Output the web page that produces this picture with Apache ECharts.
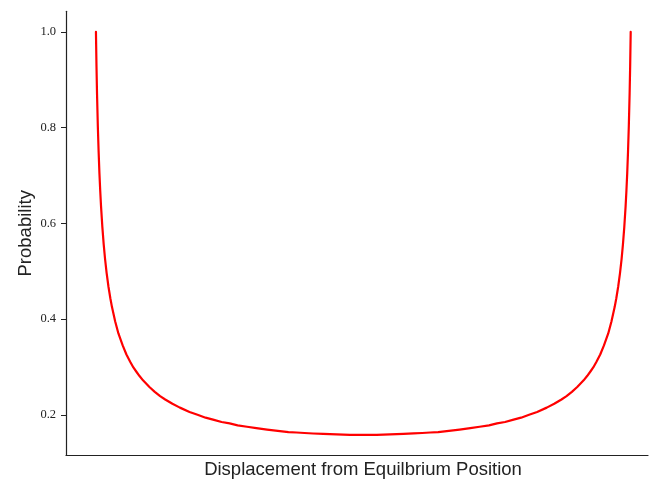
<!DOCTYPE html>
<html>
<head>
<meta charset="utf-8">
<script src="https://cdn.jsdelivr.net/npm/echarts@6/dist/echarts.min.js"></script>
<style>
  html, body { margin: 0; padding: 0; background: #fff; }
  #chart { width: 649px; height: 480px; }
</style>
</head>
<body>
<div id="chart"></div>
<script>
// Displacement (in units of the turning-point amplitude) and probability density
const displacement = [
  -1.000, -0.998, -0.996, -0.993, -0.990, -0.987, -0.984, -0.981, -0.976, -0.971,
  -0.966, -0.960, -0.953, -0.946, -0.940, -0.928, -0.916, -0.900, -0.886, -0.872,
  -0.860, -0.850, -0.837, -0.824, -0.800, -0.780, -0.760, -0.741, -0.714, -0.686,
  -0.650, -0.620, -0.590, -0.562, -0.530, -0.500, -0.470, -0.435, -0.400, -0.360,
  -0.312, -0.280, -0.250, -0.220, -0.188, -0.150, -0.100, -0.050, 0.000,
  0.050, 0.100, 0.150, 0.188, 0.220, 0.250, 0.280, 0.312, 0.360, 0.400,
  0.435, 0.470, 0.500, 0.530, 0.562, 0.590, 0.620, 0.650, 0.686, 0.714,
  0.741, 0.760, 0.780, 0.800, 0.824, 0.837, 0.850, 0.860, 0.872, 0.886,
  0.900, 0.916, 0.928, 0.940, 0.946, 0.953, 0.960, 0.966, 0.971, 0.976,
  0.981, 0.984, 0.987, 0.990, 0.993, 0.996, 0.998, 1.000
];
const probability = [
  1.000, 0.929, 0.872, 0.804, 0.750, 0.705, 0.668, 0.636, 0.592, 0.556,
  0.526, 0.496, 0.467, 0.443, 0.425, 0.395, 0.370, 0.345, 0.326, 0.311,
  0.299, 0.291, 0.281, 0.272, 0.258, 0.248, 0.239, 0.232, 0.223, 0.215,
  0.206, 0.200, 0.194, 0.190, 0.185, 0.182, 0.178, 0.175, 0.172, 0.169,
  0.166, 0.164, 0.163, 0.162, 0.161, 0.160, 0.159, 0.158, 0.158,
  0.158, 0.159, 0.160, 0.161, 0.162, 0.163, 0.164, 0.166, 0.169, 0.172,
  0.175, 0.178, 0.182, 0.185, 0.190, 0.194, 0.200, 0.206, 0.215, 0.223,
  0.232, 0.239, 0.248, 0.258, 0.272, 0.281, 0.291, 0.299, 0.311, 0.326,
  0.345, 0.370, 0.395, 0.425, 0.443, 0.467, 0.496, 0.526, 0.556, 0.592,
  0.636, 0.668, 0.705, 0.750, 0.804, 0.872, 0.929, 1.000
];
const yTicks = [0.2, 0.4, 0.6, 0.8, 1.0];

const points = displacement.map((x, i) => [x, probability[i]]);

const chart = echarts.init(document.getElementById('chart'), null, { renderer: 'canvas' });
chart.setOption({
  animation: false,
  backgroundColor: '#ffffff',
  grid: { left: 66, right: 1, top: 11.3, bottom: 24.7, containLabel: false, outerBoundsMode: 'none' },
  xAxis: {
    type: 'value',
    min: -1.112,
    max: 1.0647,
    name: 'Displacement from Equilbrium Position',
    nameLocation: 'middle',
    nameGap: 5,
    nameTextStyle: {
      fontFamily: 'Liberation Sans', fontSize: 18.5, color: '#222',
      verticalAlign: 'top', padding: [0, 0, 0, 12]
    },
    axisLine: { show: true, onZero: false, lineStyle: { color: '#222', width: 1.2 } },
    axisTick: { show: false },
    axisLabel: { show: false },
    splitLine: { show: false }
  },
  yAxis: {
    type: 'value',
    min: 0.1154,
    max: 1.043,
    name: 'Probability',
    nameLocation: 'middle',
    nameGap: 31,
    nameRotate: 90,
    nameMoveOverlap: false,
    nameTextStyle: { fontFamily: 'Liberation Sans', fontSize: 18.5, color: '#222' },
    axisLine: { show: true, onZero: false, lineStyle: { color: '#222', width: 1.2 } },
    axisTick: { show: true, length: 5, customValues: yTicks, lineStyle: { color: '#222', width: 1 } },
    axisLabel: {
      show: true,
      customValues: yTicks,
      margin: 10,
      formatter: v => v.toFixed(1),
      fontFamily: 'Liberation Serif',
      fontSize: 12.5,
      color: '#222'
    },
    splitLine: { show: false }
  },
  series: [{
    type: 'line',
    data: points,
    showSymbol: false,
    smooth: false,
    lineStyle: { color: '#ff0000', width: 2.2, join: 'round', cap: 'round' },
    itemStyle: { color: '#ff0000' }
  }]
});
</script>
</body>
</html>
